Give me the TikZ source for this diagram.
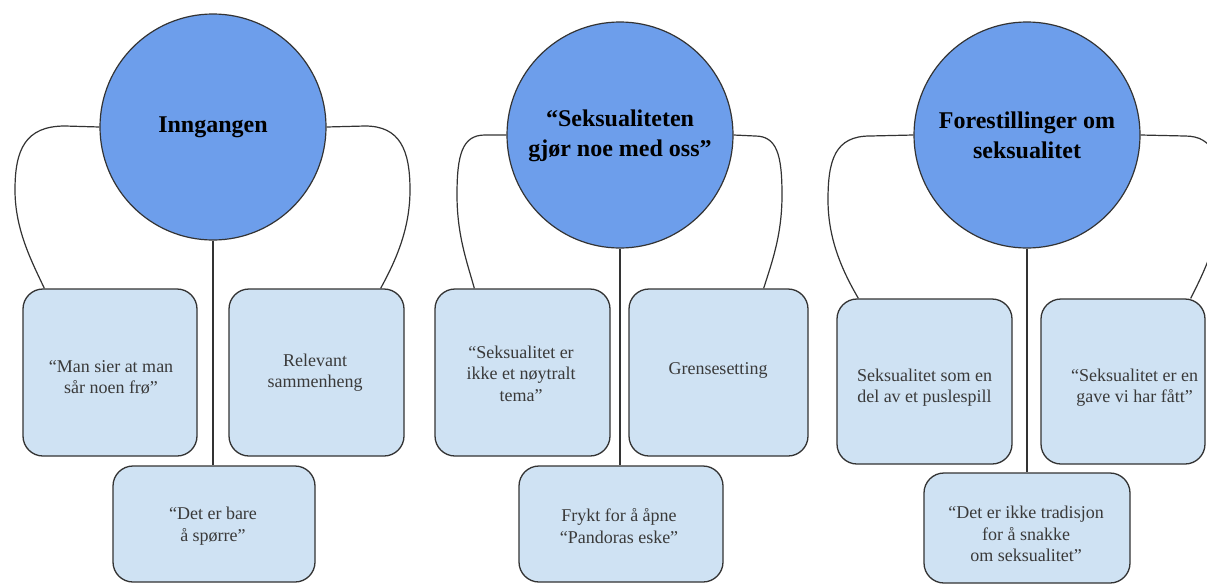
\documentclass[tikz,border=0pt]{standalone}
\usepackage{fontspec}
\setmainfont{Liberation Serif}
\usetikzlibrary{calc}
\definecolor{circfill}{HTML}{6D9EEB}
\definecolor{boxfill}{HTML}{CFE2F3}
\definecolor{edge}{HTML}{333333}
\definecolor{btxt}{HTML}{3A3A3A}
\tikzset{
  hub/.style={circle, draw=edge, line width=1.2pt, fill=circfill, minimum size=226pt, inner sep=0pt},
  hubtext/.style={align=center, text=black, font=\fontsize{24}{30}\selectfont\bfseries, inner sep=0pt},
  box/.style={rectangle, rounded corners=20pt, draw=edge, line width=1.3pt, fill=boxfill, inner sep=0pt},
  btext/.style={align=center, text=btxt, font=\fontsize{18}{21.6}\selectfont, inner sep=0pt},
  link/.style={draw=edge, line width=1.2pt}
}
\begin{document}
\begin{tikzpicture}[x=1pt, y=-1pt]
\useasboundingbox (0,0) rectangle (1207,584);
\clip (0,0) rectangle (1207,584);
\fill[white] (0,0) rectangle (1207,584);

% ---------- Group 1 ----------
\node (c1) [hub] at (213,127) {};
\node (c1t) [hubtext] at (213,127) {Inngangen};
\node (b1L) [box, minimum width=174pt, minimum height=167pt] at (110,372.5) {};
\node (b1R) [box, minimum width=175pt, minimum height=167pt] at (316.5,372.5) {};
\node (b1B) [box, minimum width=202pt, minimum height=116pt] at (214,524) {};
\node (t1L) [btext] at (111,377.5) {“Man sier at man\\sår noen frø”};
\node (t1R) [btext] at (315,372.5) {Relevant\\sammenheng};
\node (t1B) [btext] at (213,526) {“Det er bare\\å spørre”};

\coordinate (e1L) at ($(b1L.north west)+(22,0)$);
\coordinate (e1R) at ($(b1R.north east)+(-24,0)$);
\draw[link] (c1.west) -- (65,126) .. controls (25,126) and (15,150) .. (15,190)
  .. controls (15,230) and (32,262) .. (e1L);
\draw[link] (c1.east) -- (365,126) .. controls (400,126) and (410,150) .. (410,190)
  .. controls (410,230) and (395,262) .. (e1R);
\draw[link] (c1.south) -- (c1.south |- b1B.north);

% ---------- Group 2 ----------
\node (c2) [hub] at (620,135) {};
\node (c2t) [hubtext] at (620,136) {“Seksualiteten\\gjør noe med oss”};
\node (b2L) [box, minimum width=175pt, minimum height=167pt] at (522.5,372.5) {};
\node (b2R) [box, minimum width=179pt, minimum height=167pt] at (718.5,372.5) {};
\node (b2B) [box, minimum width=204pt, minimum height=116pt] at (621,524) {};
\node (t2L) [btext] at (521,373.5) {“Seksualitet er\\ikke et nøytralt\\tema”};
\node (t2R) [btext] at (718,370) {Grensesetting};
\node (t2B) [btext] at (619,526) {Frykt for å åpne\\“Pandoras eske”};

\coordinate (e2L) at ($(b2L.north west)+(40,0)$);
\coordinate (e2R) at ($(b2R.north east)+(-45,0)$);
\draw[link] (c2.west) -- (485,135) .. controls (462,135) and (457,155) .. (457,195)
  .. controls (457,235) and (467,262) .. (e2L);
\draw[link] (c2.east) -- (755,136) .. controls (777,136) and (782,155) .. (782,195)
  .. controls (782,235) and (772,262) .. (e2R);
\draw[link] (c2.south) -- (c2.south |- b2B.north);

% ---------- Group 3 ----------
\node (c3) [hub] at (1027,135) {};
\node (c3t) [hubtext] at (1027,135) {Forestillinger om\\seksualitet};
\node (b3L) [box, minimum width=175pt, minimum height=165pt] at (924.5,381.5) {};
\node (b3R) [box, minimum width=164pt, minimum height=165pt] at (1123,381.5) {};
\node (b3B) [box, minimum width=206pt, minimum height=110pt] at (1027,528) {};
\node (t3L) [btext] at (924.5,387.5) {Seksualitet som en\\del av et puslespill};
\node (t3R) [btext] at (1134.5,387.5) {“Seksualitet er en\\gave vi har fått”};
\node (t3B) [btext] at (1026,534) {“Det er ikke tradisjon\\for å snakke\\om seksualitet”};

\coordinate (e3L) at ($(b3L.north west)+(22,0)$);
\coordinate (e3R) at ($(b3R.north east)+(-15,0)$);
\draw[link] (c3.west) -- (870,136) .. controls (835,136) and (828,160) .. (828,200)
  .. controls (828,240) and (843,272) .. (e3L);
\draw[link] (c3.east) -- (1185,136) .. controls (1215,136) and (1220,160) .. (1220,200)
  .. controls (1220,240) and (1204,272) .. (e3R);
\draw[link] (c3.south) -- (c3.south |- b3B.north);
\end{tikzpicture}
\end{document}
